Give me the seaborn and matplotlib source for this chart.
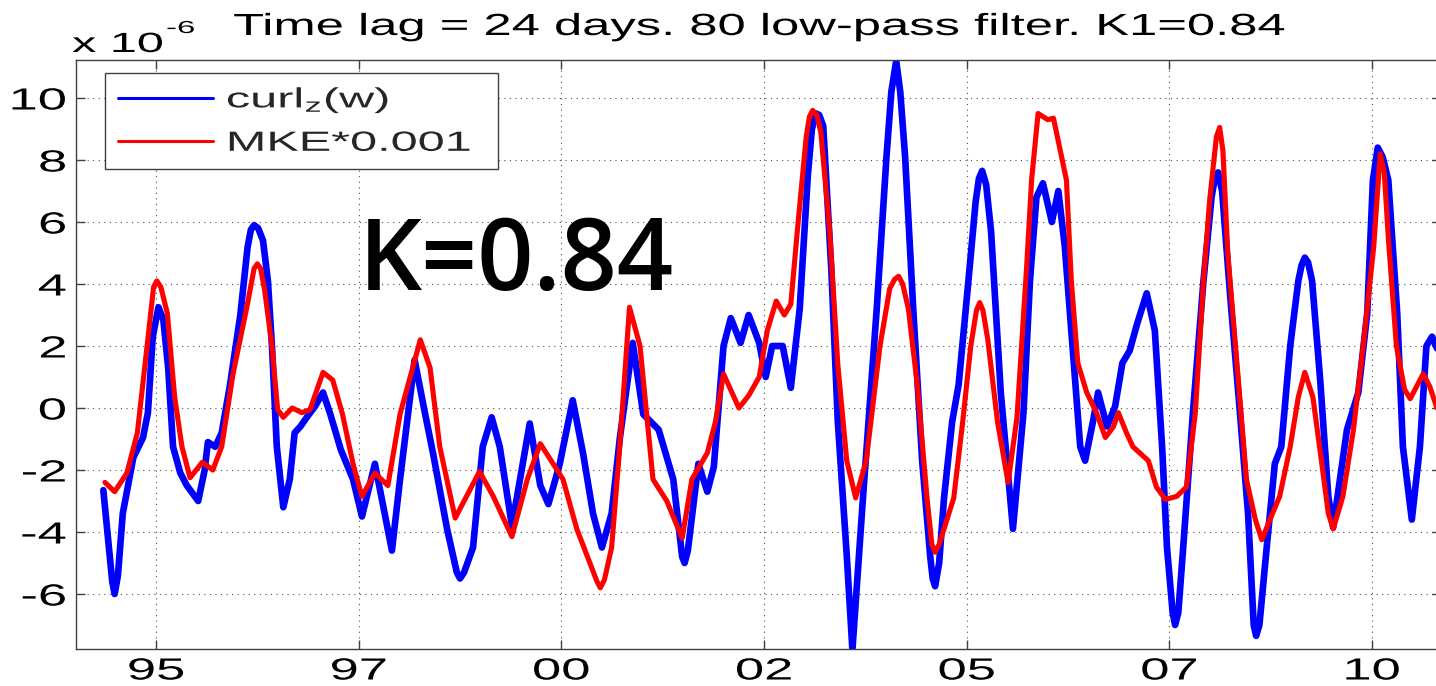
import numpy as np
import pandas as pd
import matplotlib
matplotlib.use("Agg")
import matplotlib.pyplot as plt
import seaborn as sns
from matplotlib.lines import Line2D
from matplotlib.patheffects import AbstractPathEffect
from matplotlib.transforms import Affine2D

# ---------------- data (values in units of 1e-6) ----------------
curl_years = [1994.35, 1994.46, 1994.49, 1994.53, 1994.59, 1994.72, 1994.84, 1994.90, 1994.96, 1995.03,
              1995.09, 1995.15, 1995.21, 1995.30, 1995.38, 1995.52, 1995.60, 1995.64, 1995.73, 1995.81,
              1995.91, 1996.04, 1996.13, 1996.17, 1996.21, 1996.26, 1996.32, 1996.38, 1996.43, 1996.49,
              1996.57, 1996.65, 1996.71, 1996.78, 1996.86, 1996.96, 1997.06, 1997.15, 1997.28, 1997.43,
              1997.54, 1997.70, 1997.91, 1998.01, 1998.19, 1998.32, 1998.42, 1998.59, 1998.71, 1998.75,
              1998.80, 1998.91, 1999.03, 1999.14, 1999.24, 1999.39, 1999.49, 1999.61, 1999.74, 1999.84,
              1999.98, 2000.14, 2000.27, 2000.39, 2000.50, 2000.62, 2000.72, 2000.88, 2001.01, 2001.20,
              2001.38, 2001.49, 2001.52, 2001.56, 2001.69, 2001.80, 2001.88, 2002.00, 2002.09, 2002.21,
              2002.31, 2002.44, 2002.52, 2002.60, 2002.73, 2002.83, 2002.94, 2003.04, 2003.09, 2003.14,
              2003.18, 2003.23, 2003.33, 2003.41, 2003.52, 2003.59, 2003.72, 2003.89, 2004.01, 2004.07,
              2004.13, 2004.18, 2004.24, 2004.34, 2004.45, 2004.55, 2004.58, 2004.61, 2004.66, 2004.72,
              2004.82, 2004.90, 2005.01, 2005.11, 2005.15, 2005.19, 2005.24, 2005.30, 2005.42, 2005.57,
              2005.70, 2005.78, 2005.86, 2005.94, 2006.05, 2006.13, 2006.21, 2006.32, 2006.40, 2006.46,
              2006.56, 2006.62, 2006.73, 2006.83, 2006.92, 2007.01, 2007.10, 2007.22, 2007.32, 2007.41,
              2007.47, 2007.54, 2007.57, 2007.61, 2007.67, 2007.79, 2007.92, 2008.02, 2008.06, 2008.10,
              2008.15, 2008.25, 2008.37, 2008.47, 2008.54, 2008.57, 2008.61, 2008.70, 2008.80, 2008.88,
              2008.99, 2009.09, 2009.13, 2009.17, 2009.21, 2009.26, 2009.36, 2009.46, 2009.52, 2009.69,
              2009.83, 2009.94, 2010.01, 2010.07, 2010.13, 2010.20, 2010.31, 2010.38, 2010.49, 2010.59,
              2010.67, 2010.74, 2010.82]
curl_values = [-2.65, -5.6, -6.0, -5.4, -3.4, -1.6, -0.95, -0.15, 2.3, 3.25,
               2.85, 1.3, -1.25, -2.1, -2.5, -3.0, -2.0, -1.1, -1.25, -0.8,
               0.7, 3.0, 5.2, 5.75, 5.9, 5.8, 5.4, 4.1, 2.0, -1.25,
               -3.2, -2.3, -0.8, -0.6, -0.3, 0.05, 0.5, -0.2, -1.35, -2.3,
               -3.5, -1.8, -4.6, -2.3, 1.55, -0.2, -1.5, -3.9, -5.3, -5.5,
               -5.3, -4.5, -1.25, -0.3, -1.25, -3.8, -2.3, -0.5, -2.5, -3.1,
               -1.8, 0.25, -1.5, -3.4, -4.5, -3.4, -1.0, 2.1, -0.2, -0.7,
               -2.3, -4.8, -5.0, -4.6, -1.8, -2.7, -1.9, 2.0, 2.9, 2.1,
               3.0, 2.1, 1.0, 2.0, 2.0, 0.65, 3.2, 7.5, 9.0, 9.5,
               9.45, 9.1, 4.45, -0.45, -4.75, -7.8, -2.9, 3.2, 8.1, 10.2,
               11.2, 10.2, 8.1, 3.2, -1.7, -4.8, -5.5, -5.75, -5.0, -2.9,
               -0.45, 0.75, 3.8, 6.65, 7.4, 7.65, 7.2, 5.7, 0.5, -3.9,
               -0.15, 4.1, 6.8, 7.25, 6.0, 7.0, 5.2, 1.45, -1.25, -1.7,
               -0.4, 0.5, -0.6, 0.05, 1.45, 1.85, 2.7, 3.7, 2.5, -1.25,
               -4.5, -6.6, -7.0, -6.6, -4.5, -0.15, 4.1, 6.8, 7.4, 7.6,
               7.0, 3.6, -0.15, -3.4, -7.0, -7.35, -7.0, -4.5, -1.8, -1.25,
               2.0, 4.1, 4.6, 4.85, 4.7, 4.1, 0.9, -2.85, -3.85, -0.7,
               0.5, 3.05, 7.35, 8.4, 8.1, 7.35, 3.05, -1.25, -3.6, -1.25,
               2.0, 2.3, 1.8]

mke_years = [1994.37, 1994.49, 1994.64, 1994.77, 1994.89, 1994.97, 1995.01, 1995.06, 1995.14, 1995.23,
             1995.32, 1995.42, 1995.57, 1995.70, 1995.81, 1995.95, 1996.12, 1996.21, 1996.25, 1996.29,
             1996.34, 1996.43, 1996.50, 1996.57, 1996.68, 1996.80, 1996.90, 1997.06, 1997.18, 1997.30,
             1997.43, 1997.54, 1997.70, 1997.86, 1998.01, 1998.26, 1998.38, 1998.50, 1998.69, 1998.83,
             1998.99, 1999.16, 1999.39, 1999.58, 1999.74, 2000.02, 2000.19, 2000.44, 2000.48, 2000.53,
             2000.62, 2000.72, 2000.84, 2000.97, 2001.13, 2001.30, 2001.49, 2001.61, 2001.80, 2001.90,
             2002.00, 2002.19, 2002.31, 2002.44, 2002.54, 2002.65, 2002.75, 2002.83, 2002.91, 2003.02,
             2003.06, 2003.10, 2003.15, 2003.20, 2003.31, 2003.41, 2003.52, 2003.63, 2003.76, 2003.93,
             2004.05, 2004.11, 2004.16, 2004.21, 2004.28, 2004.39, 2004.51, 2004.57, 2004.61, 2004.66,
             2004.72, 2004.84, 2004.95, 2005.05, 2005.12, 2005.16, 2005.20, 2005.26, 2005.38, 2005.51,
             2005.62, 2005.74, 2005.80, 2005.88, 2006.00, 2006.07, 2006.23, 2006.29, 2006.37, 2006.48,
             2006.60, 2006.71, 2006.81, 2006.87, 2006.97, 2007.05, 2007.24, 2007.34, 2007.45, 2007.59,
             2007.71, 2007.82, 2007.92, 2008.00, 2008.08, 2008.12, 2008.16, 2008.22, 2008.35, 2008.45,
             2008.56, 2008.64, 2008.74, 2008.86, 2008.99, 2009.09, 2009.17, 2009.27, 2009.38, 2009.46,
             2009.52, 2009.64, 2009.77, 2009.89, 2010.02, 2010.10, 2010.15, 2010.20, 2010.30, 2010.40,
             2010.47, 2010.63, 2010.71, 2010.82]
mke_values = [-2.4, -2.7, -2.1, -0.8, 2.0, 3.9, 4.1, 3.9, 3.05, 0.35,
              -1.25, -2.25, -1.75, -2.0, -1.25, 1.1, 3.25, 4.5, 4.65, 4.5,
              3.8, 2.0, -0.05, -0.3, 0.0, -0.15, -0.05, 1.15, 0.9, -0.2,
              -1.8, -2.85, -2.1, -2.5, -0.2, 2.2, 1.3, -1.25, -3.55, -2.85,
              -2.05, -2.85, -4.15, -2.3, -1.15, -2.3, -3.9, -5.6, -5.8, -5.55,
              -4.5, -1.25, 3.25, 2.0, -2.3, -3.0, -4.2, -2.3, -1.45, -0.45,
              1.1, 0.0, 0.4, 1.0, 2.5, 3.45, 3.0, 3.35, 5.7, 8.75,
              9.4, 9.6, 9.45, 8.9, 5.7, 1.4, -1.7, -2.9, -1.7, 2.0,
              3.85, 4.15, 4.25, 4.0, 3.2, 0.75, -2.9, -4.4, -4.65, -4.4,
              -3.9, -2.9, -0.45, 2.0, 3.15, 3.4, 3.15, 2.2, -0.45, -2.4,
              -0.3, 4.6, 7.35, 9.5, 9.3, 9.35, 7.35, 4.1, 1.45, 0.5,
              -0.15, -0.95, -0.6, -0.15, -0.8, -1.25, -1.7, -2.55, -2.95, -2.85,
              -2.55, -0.15, 4.1, 6.8, 8.75, 9.05, 8.3, 5.0, 0.9, -2.3,
              -3.6, -4.25, -3.6, -2.85, -1.25, 0.35, 1.15, 0.35, -1.8, -3.4,
              -3.9, -2.85, -0.7, 2.0, 5.2, 8.2, 7.6, 5.5, 2.0, 0.6,
              0.3, 1.1, 0.7, -0.15]

series_labels = ["curl$_z$(w)", "MKE*0.001"]
x_tick_years = [1995, 1997.5, 2000, 2002.5, 2005, 2007.5, 2010]
x_tick_labels = ["95", "97", "00", "02", "05", "07", "10"]
y_tick_values = [-6, -4, -2, 0, 2, 4, 6, 8, 10]
title_text = "Time lag = 24 days. 80 low-pass filter. K1=0.84"
annotation_text = "K=0.84"
scale_base_text = "x 10"
scale_exp_text = "-6"


# ---------------- horizontal stretch for the wide MATLAB lettering ----------------
class HStretch(AbstractPathEffect):
    def __init__(self, sx, anchor="left"):
        super().__init__()
        self.sx = sx
        self.anchor = anchor

    def draw_path(self, renderer, gc, tpath, affine, rgbFace=None):
        cx = 0.0
        if len(tpath.vertices):
            ext = tpath.get_extents()
            if self.anchor == "center":
                cx = 0.5 * (ext.x0 + ext.x1)
            elif self.anchor == "right":
                cx = ext.x1
        t = Affine2D().translate(-cx, 0).scale(self.sx, 1.0).translate(cx, 0) + affine
        renderer.draw_path(gc, tpath, t, rgbFace)


sns.set_theme(style="white")
plt.rcParams["font.family"] = ["Liberation Sans", "DejaVu Sans"]
plt.rcParams["mathtext.default"] = "regular"
plt.rcParams["axes.unicode_minus"] = False

W, H = 1436, 686
fig = plt.figure(figsize=(W / 100, H / 100), dpi=100)
fig.patch.set_facecolor("white")
ax = fig.add_axes([76 / W, (H - 649) / H, (1441 - 76) / W, (649 - 60) / H])
ax.set_facecolor("white")

df_curl = pd.DataFrame({"year": curl_years, "value": curl_values})
df_mke = pd.DataFrame({"year": mke_years, "value": mke_values})

sns.lineplot(data=df_curl, x="year", y="value", ax=ax, color="#0000ff", linewidth=4.8,
             sort=False, estimator=None, legend=False)
sns.lineplot(data=df_mke, x="year", y="value", ax=ax, color="#ff0000", linewidth=3.7,
             sort=False, estimator=None, legend=False)
for ln in ax.lines:
    ln.set_solid_joinstyle("round")
    ln.set_solid_capstyle("round")

ax.set_xlim(1994.013, 2010.850)
ax.set_ylim(-7.774, 11.226)
ax.set_xlabel("")
ax.set_ylabel("")

ax.set_xticks(x_tick_years)
ax.set_xticklabels(x_tick_labels)
ax.set_yticks(y_tick_values)
ax.set_yticklabels([str(v) for v in y_tick_values])

ax.grid(True, linestyle=(0, (1, 4)), color="#505050", linewidth=0.8)
ax.set_axisbelow(True)

for s in ax.spines.values():
    s.set_color("#404040")
    s.set_linewidth(1.0)
    s.set_visible(True)

ax.tick_params(axis="both", direction="in", length=6.5, width=1.0, color="#404040",
               labelsize=22, labelcolor="black", top=True, right=True,
               bottom=True, left=True)
ax.tick_params(axis="x", pad=5.4)
ax.tick_params(axis="y", pad=7)

for lab in ax.get_xticklabels():
    lab.set_path_effects([HStretch(1.72, "center")])
for lab in ax.get_yticklabels():
    lab.set_path_effects([HStretch(1.72, "right")])

ttl = ax.set_title(title_text, fontsize=22, pad=18, color="black")
ttl.set_path_effects([HStretch(1.66, "center")])

handles = [Line2D([], [], color="#0000ff", lw=2.2), Line2D([], [], color="#ff0000", lw=2.2)]
leg = ax.legend(handles, series_labels, loc="upper left",
                bbox_to_anchor=(0.02125, 0.0, 0.2879, 0.9779), mode="expand",
                borderaxespad=0.0, fontsize=20, frameon=True, fancybox=False,
                framealpha=1.0, edgecolor="#404040", borderpad=0.45,
                labelspacing=0.55, handlelength=3.45, handletextpad=0.45)
leg.get_frame().set_linewidth(1.0)
for t in leg.get_texts():
    t.set_path_effects([HStretch(1.75, "left")])

ax.text(1997.50, 3.81, annotation_text, fontsize=71, family=["Open Sans", "DejaVu Sans"],
        fontweight="semibold", ha="left", va="baseline", color="black")

st = fig.text(72 / W, (H - 52) / H, scale_base_text, fontsize=20, ha="left", va="baseline",
              color="black")
st.set_path_effects([HStretch(1.75, "left")])
se = fig.text(166 / W, (H - 33) / H, scale_exp_text, fontsize=12.5, ha="left", va="baseline",
              color="black")
se.set_path_effects([HStretch(1.9, "left")])

fig.savefig("out.png", dpi=100)
